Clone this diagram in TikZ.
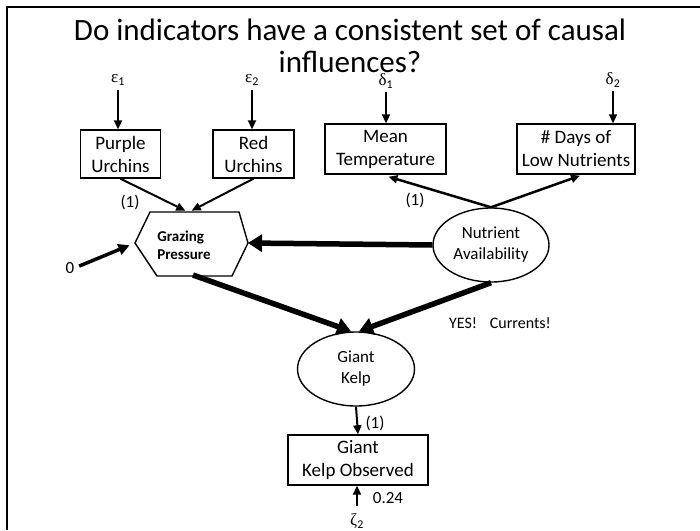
\documentclass[tikz,border=0pt]{standalone}
\usepackage{fontspec}
\setmainfont{Carlito}
\newfontfamily\greekfont{Liberation Serif}
\usetikzlibrary{shapes.geometric,arrows.meta,calc}

\tikzset{
  ind/.style={draw, line width=1.4pt, align=center, inner sep=0pt,
    font=\fontsize{19}{23}\selectfont},
  latent/.style={draw, ellipse, line width=1.4pt, align=center, inner sep=0pt,
    font=\fontsize{17}{21}\selectfont},
  lbl/.style={inner sep=0pt, font=\fontsize{17}{20}\selectfont},
  err/.style={inner sep=1pt, font=\fontsize{17}{19}\greekfont},
  thin/.style={line width=2pt, -{Triangle[length=9pt,width=8pt]}},
  thick/.style={line width=5.5pt, -{Triangle[length=14pt,width=17pt]}}
}

\begin{document}
\begin{tikzpicture}[x=1pt,y=-1pt]
\useasboundingbox (0,0) rectangle (700,530);

% slide frame
\draw[line width=2.5pt] (7,530) -- (7,7) -- (700,7);

% title
\node[font=\fontsize{31}{32}\selectfont, align=center] (title) at (350,46)
  {Do indicators have a consistent set of causal\\influences?};

% indicators
\node[ind, minimum width=80pt, minimum height=48pt] (pu) at (120.5,154) {Purple\\Urchins};
\node[ind, minimum width=81pt, minimum height=48pt] (ru) at (253.5,154) {Red\\Urchins};
\node[ind, minimum width=121pt, minimum height=50pt] (mt) at (385.5,149) {Mean\\Temperature};
\node[ind, minimum width=118pt, minimum height=50pt] (nd) at (576,149) {\# Days of\\Low Nutrients};
\node[ind, minimum width=140pt, minimum height=50pt] (ko) at (358,460) {Giant\\Kelp Observed};

% error terms
\node[err] (e1) at (118,80) {ε\textsubscript{\rmfamily 1}};
\node[err] (e2) at (252,80) {ε\textsubscript{\rmfamily 2}};
\node[err] (d1) at (386,81) {δ\textsubscript{\rmfamily 1}};
\node[err] (d2) at (613,80) {δ\textsubscript{\rmfamily 2}};
\node[err] (z2) at (357,521) {ζ\textsubscript{\rmfamily 2}};

% composite: grazing pressure (hexagon)
\node[inner sep=0pt, minimum width=112pt, minimum height=64pt, align=left,
  font=\fontsize{15}{18}\bfseries\selectfont] (gp) at (184,245) {Grazing\\Pressure};
\coordinate (gpL) at ($(gp.center)+(-49,-2)$);
\coordinate (gpTL) at ($(gp.center)+(-34,-33)$);
\coordinate (gpTR) at ($(gp.center)+(55,-33)$);
\coordinate (gpR) at ($(gp.center)+(64,-2)$);
\coordinate (gpBR) at ($(gp.center)+(48,31)$);
\coordinate (gpBL) at ($(gp.center)+(-27,31)$);
\coordinate (gpT) at ($(gp.center)+(4,-33)$);
\coordinate (gpB) at ($(gp.center)+(9,30)$);
\draw[line width=1.4pt] (gpL) -- (gpTL) -- (gpTR) -- (gpR) -- (gpBR) -- (gpBL) -- cycle;

% latent variables
\node[latent, minimum width=116pt, minimum height=74pt] (na) at (491,245) {Nutrient\\Availability};
\node[latent, minimum width=117pt, minimum height=74pt] (gk) at (356,369) {Giant\\Kelp};

% labels
\node[lbl] (zero) at (70,268) {0};
\node[lbl] (p1) at (130,202) {(1)};
\node[lbl] (p2) at (415,200) {(1)};
\node[lbl] (p3) at (375,423) {(1)};
\node[lbl] (v24) at (388,498) {0.24};
\node[lbl, font=\fontsize{16}{19}\selectfont] (yes) at (500,323) {YES!\hspace{0.8em}Currents!};

% error arrows
\draw[thin, shorten <=3pt] (e1) -- (e1 |- pu.north);
\draw[thin, shorten <=3pt] (e2) -- (e2 |- ru.north);
\draw[thin, shorten <=3pt] (d1) -- (d1 |- mt.north);
\draw[thin, shorten <=3pt] (d2) -- (d2 |- nd.north);
\draw[thin, shorten <=6pt] (z2) -- (z2 |- ko.south);

% composite inputs
\draw[thin, shorten >=3pt] (pu.south) -- (gpT);
\draw[thin, shorten >=3pt] (ru.south) -- ($(gpT)+(1,0)$);
\draw[line width=3.5pt, -{Triangle[length=11pt,width=11pt]}, shorten <=5pt, shorten >=6pt]
  (zero.east) -- (gpL);

% reflective indicators of nutrients
\draw[line width=2.5pt, -{Triangle[length=9pt,width=8pt]}] (na.north) -- ($(mt.south)+(3,2)$);
\draw[line width=2.5pt, -{Triangle[length=9pt,width=8pt]}] (na.north) -- ($(nd.south)+(4,1)$);

% structural paths
\draw[thick] (na.west) -- (gpR);
\draw[thick] (gpB) -- ($(gk.north)+(-5,0)$);
\draw[thick] (na.south) -- ($(gk.north)+(3,0)$);
\draw[thin] (gk.south) -- (ko.north);
\end{tikzpicture}
\end{document}
